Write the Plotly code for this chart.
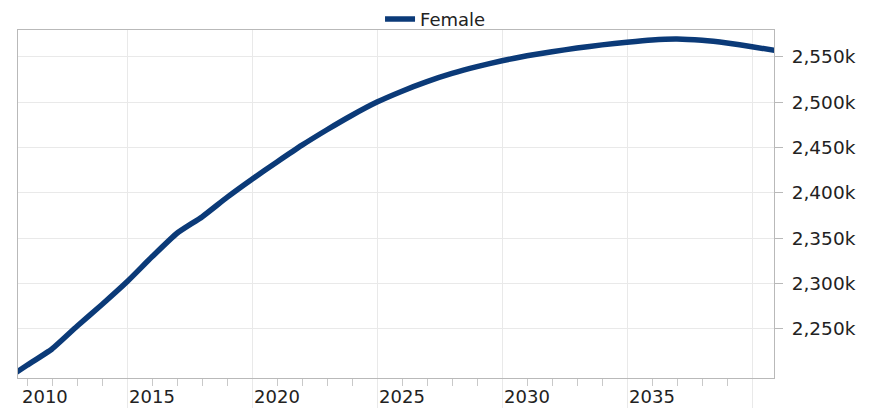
import plotly.graph_objects as go

# ---- data (female population, thousands) ----
years = list(range(2009, 2041))
female_k = [2192, 2210, 2228, 2253, 2277, 2302, 2329.5, 2355.5, 2373.5, 2395,
            2415, 2434, 2452.5, 2469.5, 2485.5, 2500, 2512, 2522.5, 2531.5, 2539,
            2545.5, 2551, 2555.5, 2559.5, 2563, 2566, 2568.5, 2569.5, 2568, 2565,
            2561, 2556.5]
series_name = "Female"

grid_years = [2014, 2019, 2024, 2029, 2034, 2039]
label_years = [2015, 2020, 2025, 2030, 2035]
first_label = "2010"
y_ticks = [2250, 2300, 2350, 2400, 2450, 2500, 2550]
y_ticktext = [f"{v:,}k" for v in y_ticks]

FONT = "DejaVu Sans"
TXT = "#222222"
GRID = "#e9e9e9"
AXLINE = "#b9b9b9"
NAVY = "#0b3a78"

fig = go.Figure()
fig.add_trace(go.Scatter(
    x=years, y=female_k, name=series_name, mode="lines",
    line=dict(color=NAVY, width=5.5, shape="spline", smoothing=0.5),
    xaxis="x", yaxis="y",
))

# the page body adds an 8px offset, so the figure is 863x400
fig.update_layout(
    width=863, height=400,
    margin=dict(l=10, r=97, t=22, b=30, autoexpand=False),
    paper_bgcolor="white", plot_bgcolor="white",
    font=dict(family=FONT, size=18, color=TXT),
    showlegend=True,
    legend=dict(orientation="h", xref="container", x=0.4954, xanchor="center",
                yref="paper", y=1.031, yanchor="middle",
                font=dict(family=FONT, size=18, color=TXT),
                bgcolor="rgba(0,0,0,0)", itemwidth=30),
    xaxis=dict(
        range=[2009.64, 2039.88],
        tickmode="array", tickvals=grid_years, showticklabels=False,
        ticks="outside", ticklen=30, tickcolor=GRID, tickwidth=1,
        showgrid=True, gridcolor=GRID, gridwidth=1, zeroline=False,
        showline=True, linecolor=AXLINE, linewidth=1, mirror=True,
        minor=dict(dtick=1, tick0=2014, ticks="outside", ticklen=7,
                   tickcolor="#c9c9c9", tickwidth=1, showgrid=False),
    ),
    xaxis2=dict(
        overlaying="x", matches="x", anchor="y", side="bottom",
        tickmode="array", tickvals=label_years,
        ticktext=[str(v) for v in label_years],
        ticks="", showgrid=False, zeroline=False, showline=False,
        tickfont=dict(family=FONT, size=18, color=TXT),
        ticklabelstandoff=6,
    ),
    yaxis=dict(
        range=[2196, 2579.4], side="right",
        tickmode="array", tickvals=y_ticks, ticktext=y_ticktext,
        ticks="outside", ticklen=8, tickcolor=AXLINE, tickwidth=1,
        showgrid=True, gridcolor=GRID, gridwidth=1, zeroline=False,
        showline=True, linecolor=AXLINE, linewidth=1, mirror=True,
        tickfont=dict(family=FONT, size=18.5, color=TXT),
        ticklabelstandoff=5,
    ),
)

# invisible trace so xaxis2 (label axis) is rendered
fig.add_trace(go.Scatter(x=[years[0]], y=[female_k[0]], xaxis="x2", yaxis="y",
                         mode="markers", marker=dict(opacity=0), showlegend=False,
                         hoverinfo="skip"))

# first label is kept inside the plot's left edge
fig.add_annotation(text=first_label, xref="paper", yref="paper", x=0, y=0,
                   xanchor="left", yanchor="top", xshift=3, yshift=-7,
                   borderpad=0, showarrow=False,
                   font=dict(family=FONT, size=18, color=TXT))

fig.write_html("out.html")
